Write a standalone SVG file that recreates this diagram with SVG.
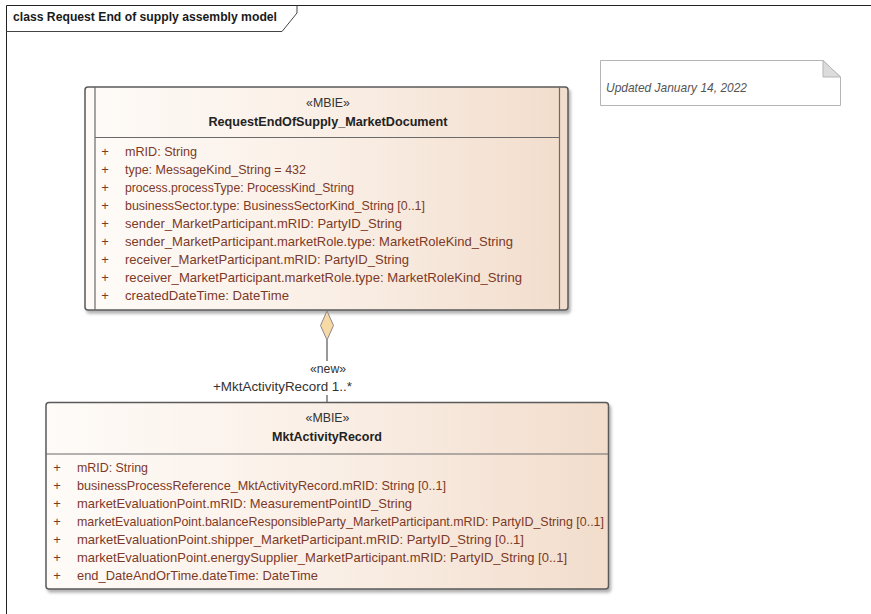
<svg xmlns="http://www.w3.org/2000/svg" width="871" height="614" viewBox="0 0 871 614">
<defs>
<linearGradient id="cls" x1="0" y1="0" x2="1" y2="0">
<stop offset="0" stop-color="#fefbf8"/>
<stop offset="0.5" stop-color="#faefe6"/>
<stop offset="1" stop-color="#f2ddcc"/>
</linearGradient>
<filter id="sh" x="-5%" y="-5%" width="110%" height="115%">
<feDropShadow dx="2" dy="3" stdDeviation="1.5" flood-color="#000" flood-opacity="0.3"/>
</filter>
</defs>
<style>
text{font-family:"Liberation Sans",Arial,sans-serif;font-size:13px}
.ttl{font-weight:bold;fill:#1a1a1a}
.st{fill:#333;text-anchor:middle}
.nm{fill:#222;font-weight:bold;text-anchor:middle}
.at{fill:#7c3a28}
.pl{fill:#7c3a28;text-anchor:middle}
.box{fill:url(#cls);stroke:#5a5a5a;stroke-width:1.5}
.ln{stroke:#6a6a6a;stroke-width:1.2;fill:none}
.note{font-style:italic;fill:#555}
.lbl{fill:#333}
</style>
<rect width="871" height="614" fill="#fff"/>
<g id="frame">
<path d="M6.5,620 V5.5 H880" fill="none" stroke="#222" stroke-width="1"/>
<path d="M6.5,31.5 H282 L297,13 V5.5" fill="none" stroke="#444" stroke-width="1"/>
<text class="ttl" x="13" y="21" textLength="264" lengthAdjust="spacingAndGlyphs">class Request End of supply assembly model</text>
</g>
<g id="note">
<path d="M600.5,60.5 H823 L840.5,77 V105.5 H600.5 Z" fill="#fff" stroke="#b5b5b5" stroke-width="1"/>
<path d="M823,60.5 V77 H840.5 Z" fill="#dcdcdc" stroke="#b5b5b5" stroke-width="1"/>
<text class="note" x="606" y="92" textLength="141" lengthAdjust="spacingAndGlyphs">Updated January 14, 2022</text>
</g>
<g id="RequestEndOfSupply_MarketDocument">
<rect class="box" x="85" y="87" width="483" height="223" rx="3" filter="url(#sh)"/>
<line class="ln" x1="95" y1="87" x2="95" y2="310"/>
<line class="ln" x1="559.5" y1="87" x2="559.5" y2="310"/>
<line class="ln" x1="95" y1="137.5" x2="559.5" y2="137.5"/>
<text class="st" x="328" y="107" textLength="44" lengthAdjust="spacingAndGlyphs">«MBIE»</text>
<text class="nm" x="328" y="126" textLength="239" lengthAdjust="spacingAndGlyphs">RequestEndOfSupply_MarketDocument</text>
<g class="pl"><text x="105" y="156">+</text><text x="105" y="174">+</text><text x="105" y="192">+</text><text x="105" y="210">+</text><text x="105" y="228">+</text><text x="105" y="246">+</text><text x="105" y="264">+</text><text x="105" y="282">+</text><text x="105" y="300">+</text></g>
<text class="at" x="125" y="156" textLength="72" lengthAdjust="spacingAndGlyphs">mRID: String</text>
<text class="at" x="125" y="174" textLength="181" lengthAdjust="spacingAndGlyphs">type: MessageKind_String = 432</text>
<text class="at" x="125" y="192" textLength="229" lengthAdjust="spacingAndGlyphs">process.processType: ProcessKind_String</text>
<text class="at" x="125" y="210" textLength="300" lengthAdjust="spacingAndGlyphs">businessSector.type: BusinessSectorKind_String [0..1]</text>
<text class="at" x="125" y="228" textLength="277" lengthAdjust="spacingAndGlyphs">sender_MarketParticipant.mRID: PartyID_String</text>
<text class="at" x="125" y="246" textLength="388" lengthAdjust="spacingAndGlyphs">sender_MarketParticipant.marketRole.type: MarketRoleKind_String</text>
<text class="at" x="125" y="264" textLength="284" lengthAdjust="spacingAndGlyphs">receiver_MarketParticipant.mRID: PartyID_String</text>
<text class="at" x="125" y="282" textLength="397" lengthAdjust="spacingAndGlyphs">receiver_MarketParticipant.marketRole.type: MarketRoleKind_String</text>
<text class="at" x="125" y="300" textLength="164" lengthAdjust="spacingAndGlyphs">createdDateTime: DateTime</text>
</g>
<g id="MktActivityRecord">
<rect class="box" x="46" y="402.5" width="562.5" height="186.5" rx="3" filter="url(#sh)"/>
<line class="ln" x1="46" y1="454" x2="608.5" y2="454"/>
<text class="st" x="327.5" y="422" textLength="44" lengthAdjust="spacingAndGlyphs">«MBIE»</text>
<text class="nm" x="327" y="441" textLength="110" lengthAdjust="spacingAndGlyphs">MktActivityRecord</text>
<g class="pl"><text x="57" y="471.5">+</text><text x="57" y="489.6">+</text><text x="57" y="507.7">+</text><text x="57" y="525.8">+</text><text x="57" y="543.9">+</text><text x="57" y="562">+</text><text x="57" y="580.1">+</text></g>
<text class="at" x="77" y="471.5" textLength="71" lengthAdjust="spacingAndGlyphs">mRID: String</text>
<text class="at" x="77" y="489.6" textLength="369" lengthAdjust="spacingAndGlyphs">businessProcessReference_MktActivityRecord.mRID: String [0..1]</text>
<text class="at" x="77" y="507.7" textLength="335" lengthAdjust="spacingAndGlyphs">marketEvaluationPoint.mRID: MeasurementPointID_String</text>
<text class="at" x="77" y="525.8" textLength="527" lengthAdjust="spacingAndGlyphs">marketEvaluationPoint.balanceResponsibleParty_MarketParticipant.mRID: PartyID_String [0..1]</text>
<text class="at" x="77" y="543.9" textLength="447" lengthAdjust="spacingAndGlyphs">marketEvaluationPoint.shipper_MarketParticipant.mRID: PartyID_String [0..1]</text>
<text class="at" x="77" y="562" textLength="490" lengthAdjust="spacingAndGlyphs">marketEvaluationPoint.energySupplier_MarketParticipant.mRID: PartyID_String [0..1]</text>
<text class="at" x="77" y="580.1" textLength="241" lengthAdjust="spacingAndGlyphs">end_DateAndOrTime.dateTime: DateTime</text>
</g>
<g id="connectors">
<line x1="327" y1="340" x2="327" y2="361" stroke="#777" stroke-width="1.5"/>
<line x1="327" y1="395" x2="327" y2="402" stroke="#777" stroke-width="1.5"/>
<path d="M327,311 L333.5,325.5 L327,340 L320.5,325.5 Z" fill="#f7d9a6" stroke="#888" stroke-width="1"/>
<text class="lbl" x="328" y="373" text-anchor="middle" textLength="36" lengthAdjust="spacingAndGlyphs">«new»</text>
<text class="lbl" x="213" y="391" textLength="139" lengthAdjust="spacingAndGlyphs">+MktActivityRecord 1..*</text>
</g>
</svg>
